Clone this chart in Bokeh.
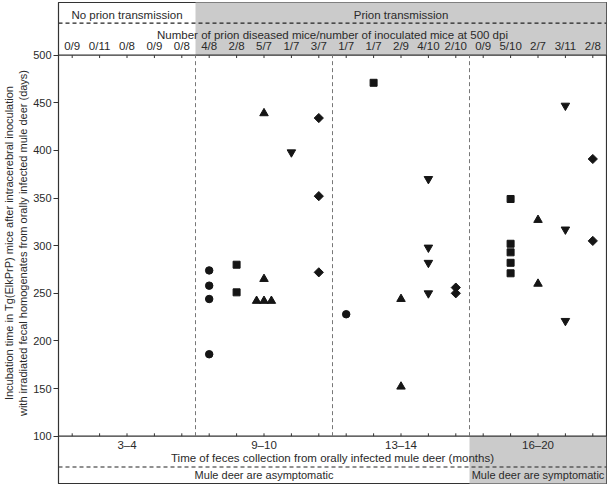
from math import pi
from bokeh.plotting import figure
from bokeh.models import Range1d, FixedTicker, ColumnDataSource
from bokeh.core.properties import value
from bokeh.embed import file_html
from bokeh.resources import INLINE

# ---------------- data ----------------
fractions = ["0/9", "0/11", "0/8", "0/9", "0/8", "4/8", "2/8", "5/7", "1/7", "3/7",
             "1/7", "1/7", "2/9", "4/10", "2/10", "0/9", "5/10", "2/7", "3/11", "2/8"]
groups = ["3–4", "9–10", "13–14", "16–20"]
group_centers = [3, 8, 13, 18]

circle_x = [6, 6, 6, 6, 11]
circle_y = [274, 258, 244, 186, 228]

square_x = [7, 7, 12, 17, 17, 17, 17, 17]
square_y = [280, 251, 471, 349, 302, 293, 282, 271]

tri_x = [8, 8, 7.73, 8, 8.27, 13, 13, 18, 18]
tri_y = [439, 265, 242, 242, 242, 244, 152, 327, 260]

inv_x = [9, 14, 14, 14, 14, 19, 19, 19]
inv_y = [398, 370, 298, 282, 250, 447, 317, 221]

dia_x = [10, 10, 10, 15, 15, 20, 20]
dia_y = [434, 352, 272, 256, 250, 391, 305]

yticks = [100, 150, 200, 250, 300, 350, 400, 450, 500]

FONT = "Liberation Sans"
TXT = "#2a2a2a"
GRAY = "#cbcbcb"
MK = "#151515"

p = figure(width=607, height=484, output_backend="svg", toolbar_location=None,
           x_axis_type=None, min_border_left=54, min_border_right=1,
           min_border_top=2, min_border_bottom=1,
           x_range=Range1d(0.5, 20.5), y_range=Range1d(50.3, 555.3))
p.grid.visible = False
p.outline_line_color = "#333333"
p.outline_line_width = 1.2
p.background_fill_color = "white"
p.border_fill_color = "white"

# y axis
ax = p.yaxis[0]
ax.ticker = FixedTicker(ticks=yticks)
ax.major_tick_out = 5
ax.major_tick_in = 0
ax.minor_tick_line_color = None
ax.axis_line_color = "#333333"
ax.major_tick_line_color = "#333333"
ax.major_label_text_font = FONT
ax.major_label_text_font_size = "11px"
ax.major_label_text_color = TXT
ax.major_label_standoff = 2
ax.axis_label = ("Incubation time in Tg(ElkPrP) mice after intracerebral inoculation\n"
                 "with irradiated fecal homogenates from orally infected mule deer (days)")
ax.axis_label_text_font = FONT
ax.axis_label_text_font_size = "11px"
ax.axis_label_text_font_style = "normal"
ax.axis_label_text_color = TXT
ax.axis_label_standoff = 1
ax.axis_label_text_line_height = 1.15

# shaded regions
p.quad(left=[5.5], right=[20.5], bottom=[500], top=[570], fill_color=GRAY, line_color=None)
p.quad(left=[15.5], right=[20.5], bottom=[30], top=[100], fill_color=GRAY, line_color=None)

# plot-area borders
p.segment(x0=[0.5, 0.5], x1=[20.5, 20.5], y0=[500, 100], y1=[500, 100],
          line_color="#333333", line_width=1.2)
# header / footer dashed separators
p.segment(x0=[0.5, 0.5], x1=[20.5, 20.5], y0=[533.6, 67.7], y1=[533.6, 67.7],
          line_color="#222222", line_width=1.1, line_dash="4 3")
# group separators
p.segment(x0=[5.5, 10.5, 15.5], x1=[5.5, 10.5, 15.5], y0=[100] * 3, y1=[500] * 3,
          line_color="#777777", line_width=1, line_dash="4 3")

# column ticks (inward, top and bottom)
cols = list(range(1, len(fractions) + 1))
p.segment(x0=cols, x1=cols, y0=[500] * len(cols), y1=[497] * len(cols),
          line_color="#333333", line_width=1)
p.segment(x0=cols, x1=cols, y0=[100] * len(cols), y1=[103] * len(cols),
          line_color="#333333", line_width=1)

# markers
p.scatter(circle_x, circle_y, marker="circle", size=7.5, color=MK)
p.scatter(square_x, square_y, marker="square", size=7, color=MK)
p.scatter(tri_x, tri_y, marker="triangle", size=8.5, color=MK)
p.scatter(inv_x, inv_y, marker="inverted_triangle", size=8.5, color=MK)
p.scatter(dia_x, dia_y, marker="square", angle=pi / 4, size=6.5, color=MK)

def txt(xs, ys, texts, size="11.5px"):
    src = ColumnDataSource(dict(x=xs, y=ys, t=texts))
    p.text(x="x", y="y", text="t", source=src, text_align="center",
           text_baseline="middle", text_font=value(FONT),
           text_font_size=value(size), text_color=TXT)

# header
txt([3, 13], [542.7, 542.7], ["No prion transmission", "Prion transmission"])
txt([10.5], [521.5], ["Number of prion diseased mice/number of inoculated mice at 500 dpi"])
txt(cols, [509.4] * len(cols), fractions)

# footer
txt(group_centers, [90.2] * len(groups), groups)
txt([10.5], [77.1], ["Time of feces collection from orally infected mule deer (months)"])
txt([8, 18], [58.7, 58.7], ["Mule deer are asymptomatic", "Mule deer are symptomatic"], size="11px")

open("out.html", "w").write(file_html(p, INLINE))
